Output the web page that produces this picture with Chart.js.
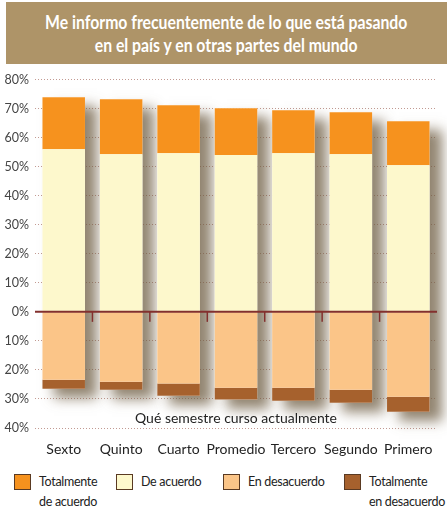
<!DOCTYPE html>
<html>
<head>
<meta charset="utf-8">
<script src="https://cdn.jsdelivr.net/npm/chart.js@4/dist/chart.umd.min.js"></script>
<style>
  body { margin: 0; width: 447px; height: 513px; background: #fff; position: relative; overflow: hidden;
         font-family: Lato, "Noto Sans", sans-serif; }
  #title { position: absolute; left: 6px; top: 2px; width: 441px; height: 62px; background: #ae9468;
           color: #fff; display: flex; align-items: center; justify-content: center; }
  #title div { font-weight: bold; font-size: 19px; line-height: 23px; text-align: center; white-space: nowrap;
               transform: scaleX(0.83); }
  #chart { position: absolute; left: 0; top: 66px; }
  #xtitle { position: absolute; left: 35px; width: 402px; top: 409px; text-align: center; font-size: 14px; color: #222; }
  #legend { position: absolute; left: 14px; top: 472px; display: flex; font-size: 12.5px; letter-spacing: -0.3px;
            color: #222; line-height: 20px; }
  #legend .item { display: flex; align-items: flex-start; white-space: nowrap; }
  #legend .box { width: 15px; height: 14px; border: 1px solid #5a3a22; margin-top: 2px; margin-right: 8px; flex: none; }
</style>
</head>
<body>
<div id="title"><div>Me informo frecuentemente de lo que está pasando<br>en el país y en otras partes del mundo</div></div>
<canvas id="chart" width="447" height="396"></canvas>
<div id="xtitle">Qué semestre curso actualmente</div>
<div id="legend"></div>
<script>
const categories = ['Sexto', 'Quinto', 'Cuarto', 'Promedio', 'Tercero', 'Segundo', 'Primero'];
const totalmenteDeAcuerdo = [17.9, 18.9, 16.5, 16.1, 14.8, 14.4, 15.1];
const deAcuerdo = [56.0, 54.3, 54.6, 54.0, 54.6, 54.3, 50.5];
const enDesacuerdo = [-23.4, -24.1, -24.7, -26.1, -26.1, -26.8, -29.2];
const totalmenteEnDesacuerdo = [-3.1, -2.7, -4.2, -4.1, -4.5, -4.5, -5.2];
const yTicks = [-40, -30, -20, -10, 0, 10, 20, 30, 40, 50, 60, 70, 80];

const colors = {
    tda: '#f6921e',
    da: '#fdf8cc',
    ed: '#fbc588',
    ted: '#a6612d'
};

// legend (two-line labels, so built as html)
const legendItems = [
    { label: ['Totalmente', 'de acuerdo'], color: colors.tda, width: 102 },
    { label: ['De acuerdo'], color: colors.da, width: 107 },
    { label: ['En desacuerdo'], color: colors.ed, width: 121 },
    { label: ['Totalmente', 'en desacuerdo'], color: colors.ted, width: 100 }
];
const legend = document.getElementById('legend');
legendItems.forEach(it => {
    const d = document.createElement('div');
    d.className = 'item';
    d.style.width = it.width + 'px';
    d.innerHTML = '<span class="box" style="background:' + it.color + '"></span><span>' + it.label.join('<br>') + '</span>';
    legend.appendChild(d);
});

// soft shadow behind each stacked column
const shadowPlugin = {
    id: 'shadows',
    beforeDatasetsDraw(chart) {
        const ctx = chart.ctx;
        const metas = chart.getSortedVisibleDatasetMetas();
        ctx.save();
        ctx.shadowColor = 'rgba(110, 92, 65, 0.75)';
        ctx.shadowBlur = 12;
        ctx.shadowOffsetX = 12;
        ctx.shadowOffsetY = 9;
        ctx.fillStyle = '#fff';
        categories.forEach((c, i) => {
            let top = Infinity, bottom = -Infinity, left = 0, w = 0;
            metas.forEach(m => {
                const el = m.data[i];
                top = Math.min(top, el.y, el.base);
                bottom = Math.max(bottom, el.y, el.base);
                left = el.x - el.width / 2;
                w = el.width;
            });
            ctx.fillRect(left, top, w, bottom - top);
        });
        ctx.restore();
    },
    afterDatasetsDraw(chart) {
        // zero line with small ticks between categories
        const ctx = chart.ctx;
        const x = chart.scales.x, y = chart.scales.y;
        const y0 = y.getPixelForValue(0);
        ctx.save();
        ctx.strokeStyle = '#83302e';
        ctx.lineWidth = 2;
        ctx.beginPath();
        ctx.moveTo(chart.chartArea.left, y0);
        ctx.lineTo(chart.chartArea.right, y0);
        ctx.stroke();
        ctx.lineWidth = 1.5;
        for (let i = 0; i < categories.length - 1; i++) {
            const xm = (x.getPixelForValue(i) + x.getPixelForValue(i + 1)) / 2;
            ctx.beginPath();
            ctx.moveTo(xm, y0);
            ctx.lineTo(xm, y0 + 10);
            ctx.stroke();
        }
        ctx.restore();
    }
};

const font = "Lato, 'Noto Sans', sans-serif";

new Chart(document.getElementById('chart'), {
    type: 'bar',
    data: {
        labels: categories,
        datasets: [
            { label: 'De acuerdo', data: deAcuerdo, backgroundColor: colors.da },
            { label: 'Totalmente de acuerdo', data: totalmenteDeAcuerdo, backgroundColor: colors.tda },
            { label: 'En desacuerdo', data: enDesacuerdo, backgroundColor: colors.ed },
            { label: 'Totalmente en desacuerdo', data: totalmenteEnDesacuerdo, backgroundColor: colors.ted }
        ]
    },
    options: {
        responsive: false,
        animation: false,
        devicePixelRatio: 1,
        layout: { padding: { top: 13, right: 10, left: 0, bottom: 0 } },
        datasets: { bar: { barPercentage: 0.74, categoryPercentage: 1 } },
        plugins: { legend: { display: false }, tooltip: { enabled: false } },
        scales: {
            x: {
                stacked: true,
                grid: { display: false, drawTicks: false },
                border: { display: false },
                ticks: { color: '#222', padding: 13, maxRotation: 0, autoSkip: false, font: { family: font, size: 14 } },
                afterFit: s => { s.height = 34; }
            },
            y: {
                stacked: true,
                min: -40,
                max: 80,
                afterBuildTicks: s => { s.ticks = yTicks.map(v => ({ value: v })); },
                grid: { color: '#c29a92', lineWidth: 1, drawTicks: false },
                border: { display: false, dash: [1, 2] },
                ticks: {
                    color: '#444',
                    padding: 6,
                    font: { family: font, size: 12.5 },
                    callback: v => Math.abs(v) + '%'
                },
                afterFit: s => { s.width = 35; }
            }
        }
    },
    plugins: [shadowPlugin]
});
</script>
</body>
</html>
